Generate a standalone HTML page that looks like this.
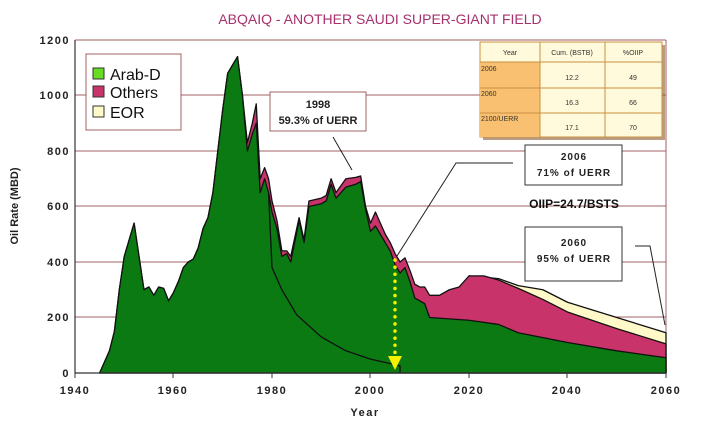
<!DOCTYPE html>
<html><head><meta charset="utf-8"><style>
body{margin:0;background:#fff;}
svg{display:block;font-family:"Liberation Sans",sans-serif;}
</style></head><body>
<svg width="718" height="427" viewBox="0 0 718 427" xmlns="http://www.w3.org/2000/svg">
<text x="380" y="24" text-anchor="middle" font-size="14" fill="#a8306c">ABQAIQ - ANOTHER SAUDI SUPER-GIANT FIELD</text>
<g stroke="#a06060" stroke-width="1">
<line x1="75" y1="40" x2="666" y2="40"/><line x1="75" y1="95" x2="666" y2="95"/>
<line x1="75" y1="151" x2="666" y2="151"/><line x1="75" y1="206" x2="666" y2="206"/>
<line x1="75" y1="262" x2="666" y2="262"/><line x1="75" y1="317" x2="666" y2="317"/>
<line x1="666" y1="40" x2="666" y2="373"/>
</g>
<g transform="translate(75,373) scale(4.925,-0.2775)" stroke="#111" stroke-width="1.3" stroke-linejoin="round">
<polygon vector-effect="non-scaling-stroke" fill="#fff8c8" points="80,0 80,350 86,340 90,315 95,300 100,255 110,200 120,145 120,0"/>
<polygon vector-effect="non-scaling-stroke" fill="#c8336a" points="5,0 7,80 8,150 9,300 10,420 11,480 12,540 13,420 14,300 15,310 16,280 17,310 18,305 19,260 20,290 21,330 22,380 23,400 24,410 25,450 26,520 27,560 28,650 29,800 30,950 31,1080 32,1110 33,1140 34,1000 35,830 36,900 36.8,970 37.6,700 38.5,740 39.3,700 40,620 41,550 42,440 43,440 43.8,420 45.5,560 46.5,480 47.5,620 50,630 51,640 52,700 53,650 55,700 57,705 58,710 59,600 60,540 61,580 62,540 63,500 64,470 65,430 66,400 67,415 68,370 69,320 70,310 71,310 72,280 74,280 76,300 78,310 80,350 83,350 86,335 90,305 95,265 100,220 110,160 120,105 120,0"/>
<polygon vector-effect="non-scaling-stroke" fill="#0b7a12" points="5,0 7,80 8,150 9,300 10,420 11,480 12,540 13,420 14,300 15,310 16,280 17,310 18,305 19,260 20,290 21,330 22,380 23,400 24,410 25,450 26,520 27,560 28,650 29,800 30,950 31,1080 32,1110 33,1140 34,1000 35,800 36,860 36.8,900 37.6,650 38.5,700 39.3,650 40,580 41,520 42,420 43,430 43.8,400 45.5,550 46.5,470 47.5,600 50,610 51,620 52,680 53,630 55,670 57,680 58,690 59,590 60,510 61,530 62,500 63,470 64,440 65,390 66,360 67,380 68,330 69,270 70,260 71,250 72,200 80,190 86,175 90,145 100,110 110,80 120,55 120,0"/>
<polyline vector-effect="non-scaling-stroke" fill="none" points="39.3,650 40,380 42,300 45,210 50,130 55,80 60,50 65,30 66,25 66,0"/>
</g>
<line x1="75" y1="40" x2="75" y2="373" stroke="#333" stroke-width="1.2"/>
<line x1="75" y1="373" x2="666" y2="373" stroke="#333" stroke-width="1.2"/>
<g stroke="#333"><line x1="75" y1="373" x2="75" y2="378"/><line x1="173" y1="373" x2="173" y2="378"/><line x1="272" y1="373" x2="272" y2="378"/><line x1="370" y1="373" x2="370" y2="378"/><line x1="469" y1="373" x2="469" y2="378"/><line x1="567" y1="373" x2="567" y2="378"/><line x1="666" y1="373" x2="666" y2="378"/></g>
<g font-size="11" font-weight="bold" fill="#222" text-anchor="end" letter-spacing="1.5">
<text x="70" y="44">1200</text><text x="70" y="99">1000</text><text x="70" y="155">800</text><text x="70" y="210">600</text><text x="70" y="266">400</text><text x="70" y="321">200</text><text x="70" y="377">0</text>
</g>
<g font-size="11" font-weight="bold" fill="#222" text-anchor="middle" letter-spacing="1.5">
<text x="75" y="394">1940</text><text x="173" y="394">1960</text><text x="272" y="394">1980</text><text x="370" y="394">2000</text><text x="469" y="394">2020</text><text x="567" y="394">2040</text><text x="666" y="394">2060</text>
<text x="365" y="416">Year</text>
</g>
<text transform="translate(18,206) rotate(-90)" text-anchor="middle" font-size="11" font-weight="bold" fill="#222">Oil Rate (MBD)</text>
<rect x="86" y="54" width="95" height="76" fill="#fff" stroke="#a06060"/>
<rect x="93" y="68" width="11" height="11" fill="#66dd22" stroke="#333"/>
<rect x="93" y="86" width="11" height="11" fill="#c8336a" stroke="#333"/>
<rect x="93" y="106" width="11" height="11" fill="#fff8c8" stroke="#333"/>
<text x="110" y="80" font-size="16" fill="#111">Arab-D</text>
<text x="110" y="98" font-size="16" fill="#111">Others</text>
<text x="110" y="118" font-size="16" fill="#111">EOR</text>
<rect x="270" y="92" width="96" height="39" fill="#fff" stroke="#a06060"/>
<text x="318" y="108" text-anchor="middle" font-size="11" font-weight="bold" fill="#222">1998</text>
<text x="318" y="124" text-anchor="middle" font-size="11" font-weight="bold" fill="#222">59.3% of UERR</text>
<line x1="333" y1="137" x2="352" y2="170" stroke="#222"/>
<rect x="525" y="145" width="97" height="40" fill="#fff" stroke="#333"/>
<text x="574" y="160" text-anchor="middle" font-size="10" font-weight="bold" fill="#222" letter-spacing="1">2006</text>
<text x="574" y="176" text-anchor="middle" font-size="10" font-weight="bold" fill="#222" letter-spacing="1">71% of UERR</text>
<polyline points="513,163 456,163 397,256" fill="none" stroke="#222"/>
<text x="574" y="208" text-anchor="middle" font-size="12" font-weight="bold" fill="#111">OIIP=24.7/BSTS</text>
<rect x="525" y="227" width="97" height="54" fill="#fff" stroke="#333"/>
<text x="574" y="246" text-anchor="middle" font-size="10" font-weight="bold" fill="#222" letter-spacing="1">2060</text>
<text x="574" y="262" text-anchor="middle" font-size="10" font-weight="bold" fill="#222" letter-spacing="1">95% of UERR</text>
<polyline points="635,246 650,246 665,325" fill="none" stroke="#222"/>
<line x1="395" y1="260" x2="395" y2="356" stroke="#f5f000" stroke-width="3.5" stroke-dasharray="0.1 7" stroke-linecap="round"/>
<polygon points="388,356 402,356 395,370" fill="#f5f000"/>
<rect x="483" y="45" width="182" height="95" fill="#8a5a30" opacity="0.6"/>
<g font-size="7" fill="#333">
<rect x="480" y="42" width="182" height="95" fill="#fffadb" stroke="#c89040"/>
<rect x="480" y="62" width="60" height="75" fill="#f8c070"/>
<line x1="480" y1="62" x2="662" y2="62" stroke="#c89040"/><line x1="480" y1="88" x2="662" y2="88" stroke="#c89040"/><line x1="480" y1="113" x2="662" y2="113" stroke="#c89040"/>
<line x1="540" y1="42" x2="540" y2="137" stroke="#c89040"/><line x1="605" y1="42" x2="605" y2="137" stroke="#c89040"/>
<text x="510" y="55" text-anchor="middle">Year</text><text x="572" y="55" text-anchor="middle">Cum. (BSTB)</text><text x="633" y="55" text-anchor="middle">%OIIP</text>
<text x="481" y="71">2006</text><text x="481" y="96">2060</text><text x="481" y="121">2100/UERR</text>
<text x="572" y="80" text-anchor="middle">12.2</text><text x="633" y="80" text-anchor="middle">49</text>
<text x="572" y="105" text-anchor="middle">16.3</text><text x="633" y="105" text-anchor="middle">66</text>
<text x="572" y="130" text-anchor="middle">17.1</text><text x="633" y="130" text-anchor="middle">70</text>
</g>
</svg>
</body></html>
